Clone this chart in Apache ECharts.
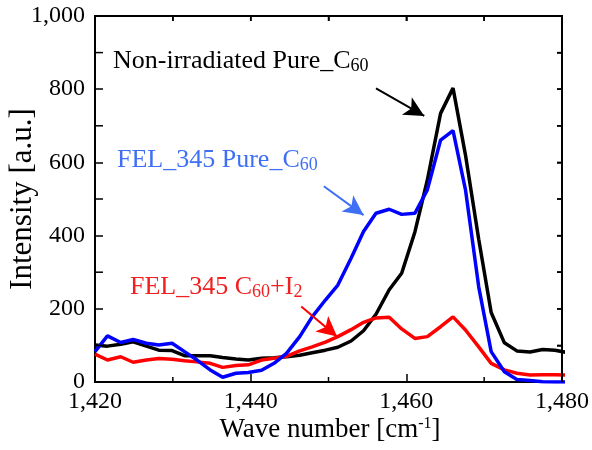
<!DOCTYPE html>
<html>
<head>
<meta charset="utf-8">
<script src="https://cdn.jsdelivr.net/npm/echarts@6/dist/echarts.min.js"></script>
<style>
html,body{margin:0;padding:0;background:#fff;}
#chart{width:592px;height:450px;}
</style>
</head>
<body>
<div id="chart"></div>
<script>
const wavenumber = [1420.0, 1421.6, 1423.3, 1424.9, 1426.6, 1428.2, 1429.9, 1431.5, 1433.1, 1434.8,
  1436.4, 1438.1, 1439.7, 1441.4, 1443.0, 1444.6, 1446.3, 1447.9, 1449.6, 1451.2,
  1452.9, 1454.5, 1456.1, 1457.8, 1459.4, 1461.1, 1462.7, 1464.4, 1466.0, 1467.6,
  1469.3, 1470.9, 1472.6, 1474.2, 1475.9, 1477.5, 1479.1, 1480.8];
const nonIrradiated = [101, 98, 103, 110, 98, 87, 86, 72, 72, 72,
  67, 63, 60, 65, 66, 69, 73, 80, 87, 95,
  112, 140, 185, 252, 297, 410, 552, 734, 803, 620,
  390, 190, 107, 85, 82, 89, 87, 80];
const fel345Pure = [83, 126, 108, 116, 106, 101, 106, 83, 60, 33,
  13, 24, 26, 32, 51, 78, 124, 178, 224, 265,
  338, 411, 461, 472, 458, 461, 525, 661, 687, 525,
  260, 83, 28, 7, 4, 1, 0, 0];
const fel345I2 = [76, 60, 69, 54, 60, 64, 62, 58, 55, 51,
  40, 45, 47, 60, 65, 70, 85, 96, 109, 124,
  143, 163, 175, 177, 145, 119, 124, 151, 178, 142,
  96, 51, 33, 24, 19, 20, 20, 19];
const xMinorTicks = [1430, 1450, 1470];
const yMinorTicks = [100, 300, 500, 700, 900];
const topTicks = [1430, 1440, 1450, 1460, 1470];
const rightTicks = [100, 200, 300, 400, 500, 600, 700, 800, 900];

const FONT = '"Liberation Serif", "Times New Roman", serif';
function pairs(vals){ return wavenumber.map((x,i)=>[x, vals[i]]); }
function axLine(){ return {show:true, onZero:false, lineStyle:{color:'#000', width:2}}; }
function tick(len){ return {show:true, inside:true, length:len, lineStyle:{color:'#000', width:1.5}}; }

const chart = echarts.init(document.getElementById('chart'));
chart.setOption({
  animation:false,
  grid:{left:95, right:26, top:16, bottom:68, show:true, borderColor:'#000', borderWidth:2},
  xAxis:[{
    type:'value', min:1420, max:1480, interval:20, position:'bottom',
    axisLine:axLine(), axisTick:tick(8), splitLine:{show:false},
    axisLabel:{color:'#000', fontFamily:FONT, fontSize:24, margin:8}
  },{
    type:'value', min:1420, max:1480, interval:10, position:'top',
    axisLine:axLine(), axisTick:tick(5), axisLabel:{show:false}, splitLine:{show:false}
  }],
  yAxis:[{
    type:'value', min:0, max:1000, interval:200, position:'left',
    axisLine:axLine(), axisTick:tick(8), splitLine:{show:false},
    axisLabel:{color:'#000', fontFamily:FONT, fontSize:24, margin:10}
  },{
    type:'value', min:0, max:1000, interval:100, position:'right',
    axisLine:axLine(), axisTick:tick(5), axisLabel:{show:false}, splitLine:{show:false}
  }],
  series:[
    {type:'line', id:'black', name:'Non-irradiated Pure_C60', data:pairs(nonIrradiated), symbol:'none',
      lineStyle:{color:'#000', width:3.5}, itemStyle:{color:'#000'}, z:2},
    {type:'line', id:'red', name:'FEL_345 C60+I2', data:pairs(fel345I2), symbol:'none',
      lineStyle:{color:'#ff0000', width:3.5}, itemStyle:{color:'#ff0000'}, z:3},
    {type:'line', id:'blue', name:'FEL_345 Pure_C60', data:pairs(fel345Pure), symbol:'none',
      lineStyle:{color:'#0000ff', width:3.5}, itemStyle:{color:'#0000ff'}, z:4}
  ]
});

const graphics = [
  {type:'text', x:23, y:199, rotation:Math.PI/2,
    style:{text:'Intensity [a.u.]', font:'31px '+FONT, fill:'#000', align:'center', verticalAlign:'middle'}},
  {type:'text', x:330, y:430,
    style:{text:'Wave number [cm{sup|-1}]', font:'27px '+FONT, fill:'#000', align:'center', verticalAlign:'middle',
      rich:{sup:{font:'16px '+FONT, fill:'#000', padding:[0,0,12,0]}}}},
  {type:'text', x:113, y:61,
    style:{text:'Non-irradiated Pure_C{sub|60}', font:'26px '+FONT, fill:'#000', align:'left', verticalAlign:'middle',
      rich:{sub:{font:'18px '+FONT, fill:'#000', padding:[10,0,0,0]}}}},
  {type:'text', x:117, y:160,
    style:{text:'FEL_345 Pure_C{sub|60}', font:'26px '+FONT, fill:'#3f6ff5', align:'left', verticalAlign:'middle',
      rich:{sub:{font:'18px '+FONT, fill:'#3f6ff5', padding:[10,0,0,0]}}}},
  {type:'text', x:130, y:287,
    style:{text:'FEL_345 C{sub|60}+I{sub|2}', font:'26px '+FONT, fill:'#f02020', align:'left', verticalAlign:'middle',
      rich:{sub:{font:'18px '+FONT, fill:'#f02020', padding:[10,0,0,0]}}}}
];
try { chart.setOption({graphic: graphics}); } catch (e) {}

try {
  chart.setOption({series:[{id:'black',
    markLine:{silent:true, animation:false, symbol:['none','arrow'], symbolSize:[15,20],
      label:{show:false},
      data:[
        [{coord:[1456.1, 802], lineStyle:{color:'#000', width:2, type:'solid'}, itemStyle:{color:'#000'}}, {coord:[1462.3, 727]}],
        [{coord:[1449.4, 535], lineStyle:{color:'#3f6ff5', width:2, type:'solid'}, itemStyle:{color:'#3f6ff5'}}, {coord:[1454.5, 456]}],
        [{coord:[1446.5, 206], lineStyle:{color:'#ff0000', width:2, type:'solid'}, itemStyle:{color:'#ff0000'}}, {coord:[1451.1, 124]}]
      ]}}]});
} catch (e) {}

try {
  const P = (x, y) => chart.convertToPixel({xAxisIndex:0, yAxisIndex:0}, [x, y]);
  const tickStyle = {stroke:'#000', lineWidth:1.5};
  const extra = [];
  const tl = P(1420, 1000), tr = P(1480, 1000), br = P(1480, 0);
  extra.push({type:'polyline', z:100, silent:true, shape:{points:[tl, tr, br]}, style:{stroke:'#000', lineWidth:2, fill:null}});
  topTicks.forEach(v => { const p = P(v, 1000);
    extra.push({type:'line', z:100, silent:true, shape:{x1:p[0], y1:p[1], x2:p[0], y2:p[1] + 5}, style:tickStyle}); });
  rightTicks.forEach(v => { const p = P(1480, v);
    extra.push({type:'line', z:100, silent:true, shape:{x1:p[0], y1:p[1], x2:p[0] - 5, y2:p[1]}, style:tickStyle}); });
  xMinorTicks.forEach(v => { const p = P(v, 0);
    extra.push({type:'line', z:100, silent:true, shape:{x1:p[0], y1:p[1], x2:p[0], y2:p[1] - 5}, style:tickStyle}); });
  yMinorTicks.forEach(v => { const p = P(1420, v);
    extra.push({type:'line', z:100, silent:true, shape:{x1:p[0], y1:p[1], x2:p[0] + 8, y2:p[1]}, style:tickStyle}); });
  chart.setOption({graphic: graphics.concat(extra)});
} catch (e) {}
</script>
</body>
</html>
